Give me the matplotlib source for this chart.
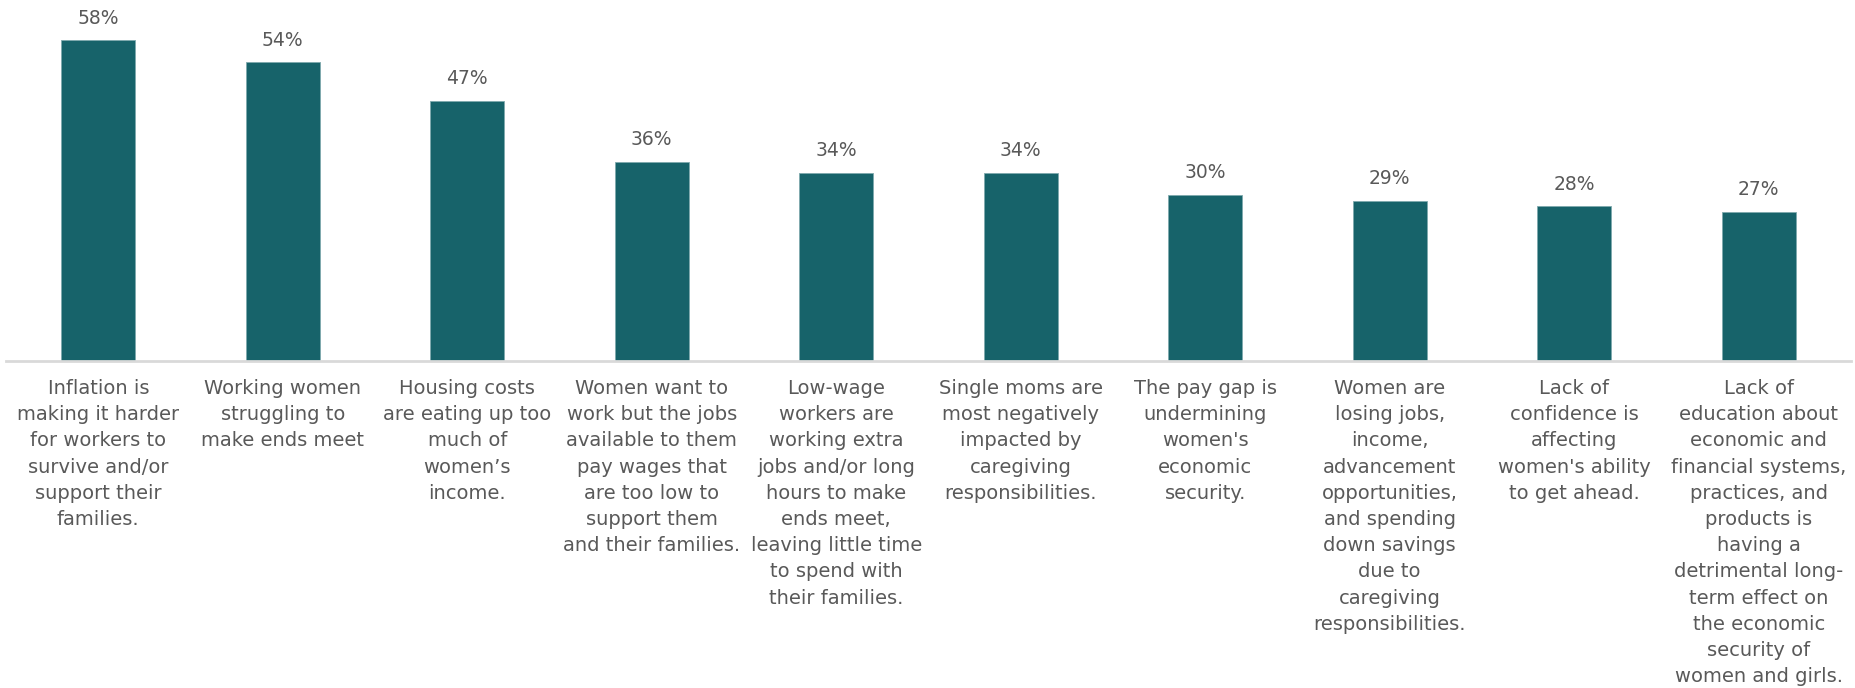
import matplotlib.pyplot as plt

categories = [
    "Inflation is\nmaking it harder\nfor workers to\nsurvive and/or\nsupport their\nfamilies.",
    "Working women\nstruggling to\nmake ends meet",
    "Housing costs\nare eating up too\nmuch of\nwomen\u2019s\nincome.",
    "Women want to\nwork but the jobs\navailable to them\npay wages that\nare too low to\nsupport them\nand their families.",
    "Low-wage\nworkers are\nworking extra\njobs and/or long\nhours to make\nends meet,\nleaving little time\nto spend with\ntheir families.",
    "Single moms are\nmost negatively\nimpacted by\ncaregiving\nresponsibilities.",
    "The pay gap is\nundermining\nwomen's\neconomic\nsecurity.",
    "Women are\nlosing jobs,\nincome,\nadvancement\nopportunities,\nand spending\ndown savings\ndue to\ncaregiving\nresponsibilities.",
    "Lack of\nconfidence is\naffecting\nwomen's ability\nto get ahead.",
    "Lack of\neducation about\neconomic and\nfinancial systems,\npractices, and\nproducts is\nhaving a\ndetrimental long-\nterm effect on\nthe economic\nsecurity of\nwomen and girls.",
]
values = [58, 54, 47, 36, 34, 34, 30, 29, 28, 27]

bar_color = "#17636A"
text_color = "#595959"

plt.rcParams['font.family'] = ['DejaVu Sans']

fig = plt.figure(figsize=(18.56, 6.88), dpi=100)
ax = fig.add_axes([6 / 1856, (688 - 361) / 688, 1845 / 1856, 361 / 688])

x = range(len(values))
bars = ax.bar(x, values, width=0.4, color=bar_color, edgecolor="#7FA9AD", linewidth=0.6, zorder=2)

for b, v in zip(bars, values):
    ax.annotate(f"{v}%", (b.get_x() + b.get_width() / 2, v),
                xytext=(0, 9), textcoords="offset points",
                ha="center", va="bottom", fontsize=13.5, color=text_color)

ax.set_xlim(-0.5, len(values) - 0.5)
ax.set_ylim(0, 58 * 361 / 321)
ax.set_xticks(list(x))
ax.set_xticklabels(categories, fontsize=14, color=text_color, linespacing=1.48, va="top")
ax.tick_params(axis="x", length=0, pad=13)
ax.set_yticks([])

for s in ["top", "right", "left"]:
    ax.spines[s].set_visible(False)
ax.spines["bottom"].set_color("#D9D9D9")
ax.spines["bottom"].set_linewidth(2)

fig.savefig("out.png", dpi=100)
